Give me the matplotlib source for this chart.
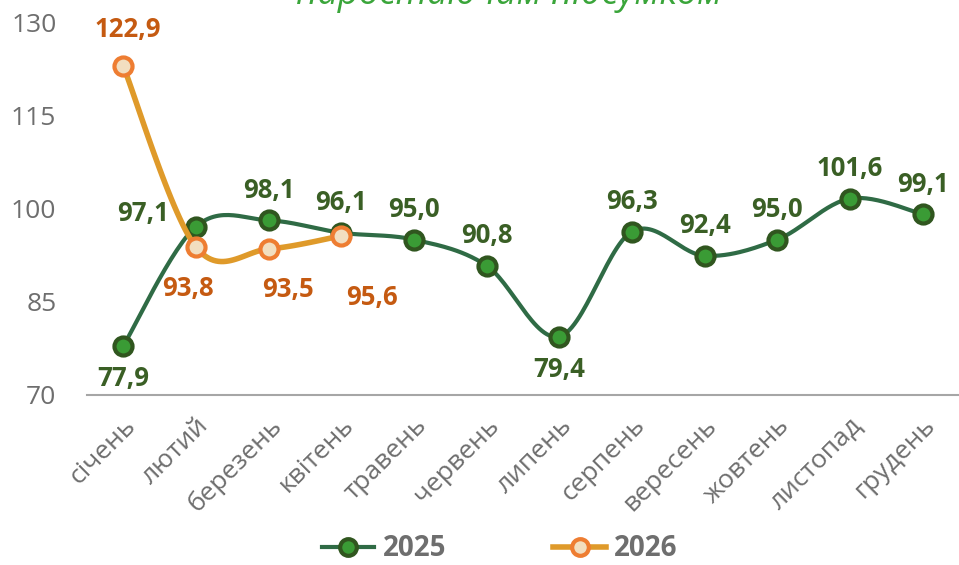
import numpy as np
import matplotlib
matplotlib.use('Agg')
import matplotlib.pyplot as plt
from matplotlib.lines import Line2D

plt.rcParams['font.family'] = ['Open Sans', 'DejaVu Sans']

months = ['січень', 'лютий', 'березень', 'квітень', 'травень', 'червень',
          'липень', 'серпень', 'вересень', 'жовтень', 'листопад', 'грудень']
vals_2025 = [77.9, 97.1, 98.1, 96.1, 95.0, 90.8, 79.4, 96.3, 92.4, 95.0, 101.6, 99.1]
vals_2026 = [122.9, 93.8, 93.5, 95.6]
yticks = [70, 85, 100, 115, 130]

# label offsets in px from the point
off_2025 = [(0, -33), (-53, 13), (0, 30), (0, 30), (0, 30), (0, 30),
            (0, -33), (0, 30), (0, 30), (0, 30), (0, 30), (0, 30)]
off_2026 = [(4, 37), (-8, -41), (19, -41), (31, -62)]


def smooth(y, n=30):
    # excel-like smoothed line (bezier through points)
    x = np.arange(len(y), dtype=float)
    y = np.asarray(y, dtype=float)
    pts = np.column_stack([x, y])
    out = [pts[:1]]
    for i in range(len(pts) - 1):
        p0 = pts[max(i - 1, 0)]
        p1 = pts[i]
        p2 = pts[i + 1]
        p3 = pts[min(i + 2, len(pts) - 1)]
        c1 = p1 + (p2 - p0) / 6
        c2 = p2 - (p3 - p1) / 6
        t = np.linspace(0, 1, n)[1:, None]
        seg = (1 - t) ** 3 * p1 + 3 * (1 - t) ** 2 * t * c1 + 3 * (1 - t) * t ** 2 * c2 + t ** 3 * p2
        out.append(seg)
    a = np.vstack(out)
    return a[:, 0], a[:, 1]


fig = plt.figure(figsize=(9.59, 5.65), dpi=100)
ax = fig.add_axes([0.0907, 0.3009, 0.9093, 0.660])

g_line = '#2F6B45'
g_face = '#3A9B35'
g_edge = '#30561F'
g_text = '#3A5F25'
o_line = '#DF9A2A'
o_face = '#F2DEC0'
o_edge = '#EE7D32'
o_text = '#C55A11'

sx, sy = smooth(vals_2025)
ax.plot(sx, sy, color=g_line, lw=3, zorder=2, solid_capstyle='round')
ax.plot(range(12), vals_2025, 'o', ms=13, mfc=g_face, mec=g_edge, mew=3, zorder=3)

sx, sy = smooth(vals_2026)
ax.plot(sx, sy, color=o_line, lw=4, zorder=4, solid_capstyle='round')
ax.plot(range(4), vals_2026, 'o', ms=13, mfc=o_face, mec=o_edge, mew=3, zorder=5)

for i, v in enumerate(vals_2025):
    dx, dy = off_2025[i]
    ax.annotate(f'{v:.1f}'.replace('.', ','), (i, v), xytext=(dx * 0.72, dy * 0.72),
                textcoords='offset points', ha='center', va='center',
                fontsize=18.5, fontweight='bold', color=g_text)
for i, v in enumerate(vals_2026):
    dx, dy = off_2026[i]
    ax.annotate(f'{v:.1f}'.replace('.', ','), (i, v), xytext=(dx * 0.72, dy * 0.72),
                textcoords='offset points', ha='center', va='center',
                fontsize=18.5, fontweight='bold', color=o_text)

ax.set_xlim(-0.5, 11.5)
ax.set_ylim(70, 130)
ax.set_yticks(yticks)
ax.set_yticklabels([str(t) for t in yticks], fontsize=19, color='#6E6E6E')
ax.set_xticks(range(12))
ax.set_xticklabels(months, rotation=45, ha='right', rotation_mode='anchor',
                   fontsize=19, color='#6E6E6E')
ax.tick_params(axis='both', length=0)
ax.tick_params(axis='y', pad=22)
ax.tick_params(axis='x', pad=13)
for s in ['top', 'right', 'left']:
    ax.spines[s].set_visible(False)
ax.spines['bottom'].set_color('#A6A6A6')
ax.spines['bottom'].set_linewidth(1.5)
ax.spines['bottom'].set_zorder(1)

fig.text(0.531, 1 - 4 / 565, 'наростаючим підсумком', ha='center', va='baseline',
         fontsize=26, style='italic', color='#3AA53A')

handles = [Line2D([], [], color=g_line, lw=3, marker='o', ms=12, mfc=g_face, mec=g_edge, mew=3),
           Line2D([], [], color=o_line, lw=4, marker='o', ms=12, mfc=o_face, mec=o_edge, mew=3)]
leg = fig.legend(handles, ['2025', '2026'], loc='center', bbox_to_anchor=(0.521, 1 - 549 / 565),
                 ncol=2, frameon=False, handlelength=1.9, columnspacing=3.85, handletextpad=0.3,
                 prop={'size': 20, 'weight': 'bold'})
for t in leg.get_texts():
    t.set_color('#6E6E6E')

fig.savefig('out.png', dpi=100)
